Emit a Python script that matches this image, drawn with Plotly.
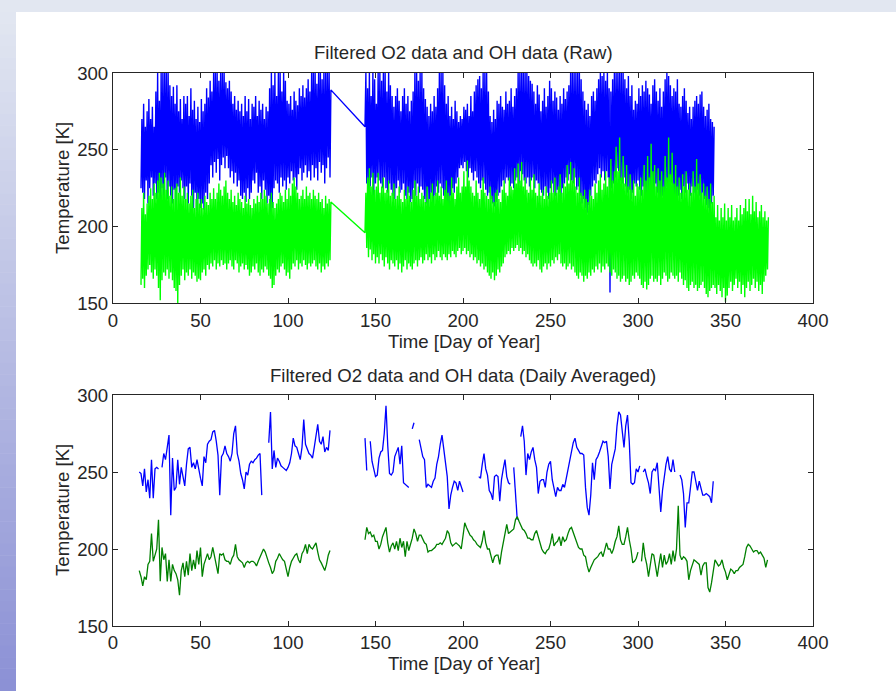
import plotly.graph_objects as go

# ---------------- DATA ----------------
# Raw data (upper panel): per-day lower / upper values of the noisy band
O2_RAW_START_1 = 16
o2_raw_hi_1 = [270, 280, 265, 275, 283, 270, 278, 265, 288, 300,
               282, 300, 300, 300, 300, 300, 292, 285, 291, 280,
               292, 275, 283, 270, 285, 280, 285, 272, 290, 276,
               282, 270, 278, 268, 283, 275, 280, 290, 284, 295,
               288, 300, 300, 300, 295, 300, 300, 300, 294, 290,
               295, 288, 280, 285, 276, 282, 275, 280, 272, 285,
               275, 283, 270, 280, 278, 285, 272, 282, 276, 280,
               270, 278, 275, 290, 300, 292, 300, 285, 300, 300,
               288, 300, 295, 282, 280, 285, 276, 288, 282, 279,
               290, 285, 292, 284, 290, 296, 288, 300, 300, 300,
               293, 300, 300, 296, 300, 300, 300, 300, 289]
o2_raw_lo_1 = [225, 222, 218, 230, 215, 225, 232, 220, 228, 218,
               222, 215, 225, 220, 232, 218, 226, 220, 215, 224,
               212, 226, 222, 230, 225, 218, 226, 215, 228, 220,
               212, 222, 210, 218, 212, 215, 211, 222, 218, 228,
               240, 232, 242, 235, 244, 230, 240, 245, 238, 246,
               238, 232, 236, 228, 235, 226, 230, 220, 218, 222,
               216, 225, 218, 222, 230, 228, 235, 222, 226, 218,
               230, 224, 215, 220, 205, 212, 225, 230, 228, 222,
               232, 226, 230, 224, 232, 228, 236, 230, 232, 224,
               234, 238, 230, 235, 240, 232, 236, 230, 240, 232,
               238, 230, 242, 235, 240, 228, 238, 245, 232]
O2_RAW_START_2 = 144
o2_raw_hi_2 = [300, 290, 300, 285, 300, 296, 280, 300, 300, 295,
               300, 300, 288, 300, 292, 285, 278, 285, 290, 282,
               275, 285, 290, 280, 285, 275, 282, 288, 300, 300,
               295, 300, 300, 290, 283, 278, 272, 280, 275, 285,
               278, 290, 300, 300, 300, 292, 280, 285, 272, 278,
               270, 282, 275, 268, 272, 270, 278, 276, 280, 272,
               285, 275, 288, 292, 296, 298, 290, 300, 300, 300,
               288, 272, 268, 276, 270, 282, 280, 285, 278, 276,
               288, 280, 282, 290, 278, 285, 290, 300, 300, 300,
               300, 300, 300, 298, 295, 293, 288, 280, 292, 286,
               275, 282, 290, 278, 285, 295, 290, 282, 288, 284,
               276, 285, 280, 290, 283, 288, 292, 300, 300, 300,
               300, 300, 300, 296, 288, 282, 276, 280, 272, 285,
               288, 282, 290, 296, 300, 298, 300, 295, 300, 290,
               288, 296, 300, 300, 300, 300, 300, 300, 296, 290,
               298, 285, 292, 276, 282, 280, 290, 285, 292, 288,
               295, 290, 286, 280, 292, 296, 288, 282, 290, 278,
               288, 296, 300, 298, 292, 285, 290, 288, 296, 280,
               278, 285, 290, 282, 274, 278, 270, 278, 282, 285,
               280, 286, 288, 278, 272, 276, 280, 270, 268, 265]
o2_raw_lo_2 = [265, 228, 222, 226, 232, 220, 228, 232, 230, 228,
               225, 232, 225, 222, 228, 224, 220, 218, 225, 230,
               222, 224, 228, 220, 218, 222, 216, 218, 225, 220,
               228, 222, 226, 224, 218, 215, 213, 218, 222, 215,
               220, 226, 222, 228, 225, 220, 218, 215, 212, 220,
               225, 222, 228, 232, 238, 240, 238, 242, 236, 232,
               238, 235, 230, 236, 232, 228, 225, 230, 228, 224,
               220, 222, 218, 215, 213, 216, 220, 222, 226, 230,
               228, 232, 230, 226, 228, 225, 230, 232, 228, 236,
               234, 230, 228, 232, 226, 230, 232, 225, 230, 228,
               224, 222, 220, 226, 222, 218, 225, 228, 222, 220,
               224, 222, 218, 225, 228, 232, 230, 234, 230, 228,
               232, 224, 226, 220, 215, 218, 212, 209, 214, 220,
               226, 230, 228, 234, 238, 232, 236, 230, 236, 232,
               157, 225, 228, 232, 238, 236, 230, 228, 232, 226,
               222, 224, 218, 222, 228, 226, 230, 224, 220, 226,
               218, 215, 220, 226, 222, 224, 228, 222, 218, 215,
               220, 222, 226, 224, 220, 228, 222, 218, 215, 220,
               224, 218, 226, 222, 228, 224, 220, 226, 222, 218,
               224, 220, 215, 222, 218, 214, 212, 209, 215, 220]

OH_RAW_START_1 = 16
oh_raw_hi_1 = [212, 222, 208, 215, 220, 225, 218, 228, 222, 230,
               235, 232, 228, 235, 224, 230, 220, 226, 218, 225,
               228, 222, 232, 220, 226, 218, 222, 215, 220, 224,
               212, 218, 222, 215, 218, 212, 220, 216, 214, 222,
               218, 225, 218, 222, 228, 224, 220, 226, 230, 222,
               218, 224, 216, 220, 214, 222, 218, 216, 212, 220,
               215, 218, 214, 212, 218, 215, 220, 216, 222, 218,
               224, 220, 215, 218, 222, 216, 212, 215, 218, 222,
               220, 216, 224, 218, 225, 220, 228, 232, 226, 222,
               218, 220, 224, 218, 226, 220, 222, 218, 224, 220,
               218, 222, 216, 218, 212, 220, 215, 218, 216]
oh_raw_lo_1 = [162, 166, 160, 168, 172, 175, 170, 166, 172, 168,
               160, 152, 165, 170, 168, 172, 166, 170, 165, 160,
               158, 150, 162, 168, 172, 165, 170, 168, 172, 166,
               170, 168, 164, 166, 165, 170, 172, 168, 175, 172,
               176, 174, 178, 172, 176, 174, 178, 175, 176, 172,
               176, 178, 174, 172, 178, 176, 170, 174, 176, 172,
               175, 172, 168, 170, 174, 172, 176, 170, 168, 172,
               170, 174, 172, 168, 166, 160, 162, 168, 172, 170,
               174, 176, 172, 168, 170, 166, 172, 176, 174, 178,
               172, 176, 174, 178, 175, 172, 176, 174, 176, 178,
               174, 172, 176, 170, 174, 172, 176, 174, 178]
OH_RAW_START_2 = 144
oh_raw_hi_2 = [222, 232, 238, 226, 235, 224, 226, 235, 222, 226,
               232, 222, 224, 230, 220, 222, 228, 218, 220, 226,
               218, 216, 224, 218, 226, 220, 216, 224, 230, 220,
               226, 218, 222, 220, 216, 226, 218, 222, 228, 220,
               222, 230, 220, 226, 218, 224, 230, 222, 220, 232,
               222, 218, 226, 232, 222, 226, 236, 226, 243, 230,
               226, 222, 220, 230, 222, 218, 224, 232, 222, 220,
               218, 226, 220, 216, 222, 224, 218, 216, 224, 230,
               222, 220, 232, 226, 224, 238, 228, 241, 230, 242,
               226, 232, 224, 222, 232, 224, 234, 222, 220, 228,
               220, 224, 218, 226, 220, 222, 230, 222, 232, 222,
               226, 234, 222, 228, 226, 240, 228, 242, 230, 238,
               226, 222, 232, 222, 220, 224, 218, 216, 224, 220,
               218, 228, 222, 230, 234, 224, 228, 236, 226, 232,
               244, 230, 236, 252, 236, 258, 232, 246, 228, 240,
               226, 234, 224, 230, 220, 228, 226, 232, 224, 240,
               230, 246, 232, 254, 236, 240, 226, 238, 230, 236,
               226, 246, 232, 258, 234, 248, 228, 240, 226, 232,
               222, 234, 226, 236, 224, 228, 222, 236, 226, 244,
               228, 234, 222, 228, 220, 226, 218, 228, 216, 220,
               206, 214, 204, 212, 206, 215, 204, 212, 206, 214,
               204, 206, 212, 204, 214, 208, 212, 218, 210, 218,
               208, 220, 210, 216, 206, 210, 214, 206, 210, 204,
               206]
oh_raw_lo_2 = [196, 186, 180, 185, 178, 182, 176, 180, 176, 182,
               178, 174, 180, 176, 172, 178, 176, 174, 178, 172,
               176, 170, 174, 178, 172, 176, 174, 172, 176, 178,
               174, 178, 180, 176, 178, 182, 178, 180, 176, 182,
               178, 180, 184, 180, 178, 182, 180, 178, 182, 180,
               184, 182, 180, 184, 186, 182, 184, 186, 182, 184,
               180, 182, 178, 180, 176, 178, 174, 176, 172, 174,
               170, 168, 166, 170, 165, 168, 172, 170, 174, 176,
               180, 182, 184, 182, 186, 184, 186, 188, 184, 186,
               182, 184, 180, 182, 178, 176, 174, 176, 174, 178,
               172, 170, 174, 176, 172, 176, 174, 178, 176, 180,
               178, 182, 176, 174, 176, 172, 174, 176, 172, 174,
               170, 168, 166, 170, 168, 164, 168, 166, 170, 168,
               172, 170, 174, 172, 176, 170, 174, 172, 176, 174,
               170, 168, 172, 170, 166, 168, 164, 166, 168, 164,
               166, 162, 164, 168, 166, 170, 168, 166, 162, 160,
               164, 159, 162, 166, 168, 164, 166, 164, 168, 162,
               166, 170, 168, 164, 166, 170, 168, 166, 168, 164,
               170, 166, 162, 165, 160, 158, 162, 164, 160, 162,
               158, 160, 162, 164, 160, 156, 154, 158, 160, 162,
               160, 156, 162, 158, 154, 160, 151, 155, 160, 164,
               158, 162, 166, 160, 164, 156, 162, 154, 160, 164,
               158, 162, 166, 160, 164, 158, 162, 156, 164, 168,
               172]

# Daily averaged data (lower panel); None = no data that day
O2_DAILY_START = 15
o2_daily = [250, 249, 241, 252, 237, 245, 233, 258, 233, 252,
            253, 252, None, 253, 262, 258, 265, 274, 222, 259,
            238, 240, 258, 242, 253, 246, 241, 255, 265, 266,
            253, 256, 252, 258, 251, 246, 241, 260, 256, 268,
            270, 271, 276, 277, 270, 261, 235, 260, 262, 267,
            262, 260, 257, 262, 275, 280, 262, 257, 249, 245,
            239, 250, 248, 255, 257, 256, 258, 259, 261, 262,
            235, None, None, None, 269, 289, 252, 264, 253, 259,
            257, 254, 253, 252, 251, 253, 256, 262, 272, 267,
            266, 262, 258, 266, 284, 268, 265, 262, 261, 259,
            266, 274, 281, 270, 268, 273, 263, 266, 264, 277,
            None, None, None, None, None, None, None, None, None, None,
            None, None, None, None, None, None, None, None, None,
            272, 251, None, 270, 257, 252, 247, 248, 259, 263,
            264, 275, 293, 267, 249, 248, 250, 260, 263, 266,
            255, 267, 243, 242, 241, 240, None, 278, 282, None,
            None, 271, 265, 260, 258, 240, 242, 241, 240, 244,
            246, 255, 260, 268, 274, 265, 257, 247, 226, 235,
            240, 244, 243, 238, 244, 241, 237, None, None, None,
            None, None, None, None, None, 247, 246, 255, 262, 252,
            248, 238, 236, 232, 247, 248, 247, 231, 245, 252,
            258, 247, 243, 242, None, 253, 237, 219, None, 273,
            280, 270, 248, 262, 258, 263, 266, 258, 253, 236,
            244, 245, 245, 240, 250, 255, 257, 245, 238, 234,
            240, 238, 238, 242, 240, 246, 251, 258, 264, 269,
            272, 266, 264, 262, 262, 261, 240, 227, 222, 235,
            256, 245, 258, 260, 263, 267, 270, 269, 270, 260,
            239, 255, 260, 265, 280, 289, 287, 275, 266, 280,
            287, 270, 243, 242, 243, 252, 250, 254, None, 250,
            252, 247, 243, 236, 250, 252, 251, 256, 240, 224,
            238, 247, 255, 260, 252, 250, 258, 250, None, None,
            248, 245, 236, 214, 230, 230, 240, 250, 250, 244,
            238, 244, 240, 235, 235, 236, 235, 234, 230, 244]
OH_DAILY_START = 15
oh_daily = [186, 182, 176, 182, 180, 190, 192, 210, 192, 197,
            200, 219, 179, 201, 193, 197, 179, 193, 179, 190,
            186, 184, 180, 170, 186, 191, 182, 192, 183, 197,
            186, 193, 187, 199, 190, 201, 182, 190, 193, 197,
            193, 195, 201, 196, 191, 184, 197, 196, 197, 193,
            192, 192, 190, 194, 196, 203, 195, 193, 192, 191,
            188, 191, 192, 191, 192, 192, 191, 189, 192, 195,
            197, 200, 198, 194, 191, 188, 184, 186, 192, 194,
            197, 195, 193, 192, 187, 182, 188, 192, 194, 196,
            197, 193, 191, 197, 199, 203, 197, 203, 201, 200,
            202, 204, 198, 193, 191, 188, 186, 190, 196, 199,
            None, None, None, None, None, None, None, None, None, None,
            None, None, None, None, None, None, None, None, None,
            206, 214, 210, 211, 208, 209, 205, 205, 200, 203,
            208, 211, 214, 204, 198, 202, 204, 200, 205, 199,
            207, 201, 205, 195, 205, 199, 203, 207, 213, 210,
            205, 209, 209, 206, 204, 203, 198, 199, 199, 200,
            201, 203, 203, 204, 203, 205, 207, 212, 210, 204,
            202, 203, 204, 203, 202, 200, 210, 217, 214, 211,
            209, 208, 206, 205, 203, 202, 201, 205, 212, 204,
            200, 200, 196, 191, 195, 196, 196, 190, 198, 205,
            210, 216, 210, 211, 212, 213, 219, 221, 218, 215,
            213, 212, 210, 207, 207, 206, 206, 210, 212, 208,
            204, 200, 198, 197, 199, 200, 204, 210, 202, 204,
            205, 208, 202, 208, 205, 206, 210, 213, 214, 211,
            207, 204, 201, 200, 200, 196, 195, 189, 185, 188,
            191, 193, 194, 195, 197, 198, 195, 199, 204, 200,
            200, 197, 200, 205, 208, 215, 206, 203, 203, 208,
            214, 206, 200, 191, 192, 194, 198, None, 192, 204,
            195, 190, 182, 190, 197, 196, 190, 182, 190, 197,
            188, 196, 190, 192, 197, 190, 199, 192, 200, 228,
            196, 193, 195, 194, 192, 180, 186, 190, 193, 192,
            191, 190, 183, 189, 191, 191, 175, 172, 178, 187,
            193, 191, 189, 190, 193, 188, 185, 180, 184, 187,
            186, 184, 186, 186, 188, 189, 190, 195, 201, 203,
            202, 200, 198, 199, 199, 197, 198, 196, 194, 188,
            193]

TITLE_RAW = "Filtered O2 data and OH data (Raw)"
TITLE_DAILY = "Filtered O2 data and OH data (Daily Averaged)"
X_LABEL = "Time [Day of Year]"
Y_LABEL = "Temperature [K]"
X_TICKS = [0, 50, 100, 150, 200, 250, 300, 350, 400]
Y_TICKS = [150, 200, 250, 300]


# ---------------- helpers ----------------
def band(start, lo, hi):
    """Two samples per day: the low and the high reading of that day."""
    xs, ys = [], []
    for i, (a, b) in enumerate(zip(lo, hi)):
        d = start + i
        xs += [d, d + 0.5]
        ys += [a, b]
    return xs, ys


def days(start, vals):
    return [start + i for i in range(len(vals))]


o2x1, o2y1 = band(O2_RAW_START_1, o2_raw_lo_1, o2_raw_hi_1)
o2x2, o2y2 = band(O2_RAW_START_2, o2_raw_lo_2, o2_raw_hi_2)
ohx1, ohy1 = band(OH_RAW_START_1, oh_raw_lo_1, oh_raw_hi_1)
ohx2, ohy2 = band(OH_RAW_START_2, oh_raw_lo_2, oh_raw_hi_2)

fig = go.Figure()
fig.add_trace(go.Scatter(x=o2x1 + o2x2, y=o2y1 + o2y2, mode="lines",
                         line=dict(color="#0000ff", width=1.4),
                         xaxis="x", yaxis="y", name="O2 raw"))
fig.add_trace(go.Scatter(x=ohx1 + ohx2, y=ohy1 + ohy2, mode="lines",
                         line=dict(color="#00ff00", width=1.4),
                         xaxis="x", yaxis="y", name="OH raw"))
fig.add_trace(go.Scatter(x=days(O2_DAILY_START, o2_daily), y=o2_daily, mode="lines",
                         line=dict(color="#0000ff", width=1.3),
                         xaxis="x2", yaxis="y2", name="O2 daily"))
fig.add_trace(go.Scatter(x=days(OH_DAILY_START, oh_daily), y=oh_daily, mode="lines",
                         line=dict(color="#008000", width=1.3),
                         xaxis="x2", yaxis="y2", name="OH daily"))

W, H = 896, 691
L, R, T, B = 113, 83, 73, 65
PW, PH = W - L - R, H - T - B
FS = 18.6


def px(x):
    return (x - L) / PW


def py(y):
    return (H - B - y) / PH


axis_common = dict(showline=True, linecolor="#262626", linewidth=1.2, mirror="ticks",
                   ticks="inside", ticklen=5, tickwidth=1, tickcolor="#262626",
                   showgrid=False, zeroline=False,
                   tickfont=dict(size=FS, color="#262626"))

fig.update_layout(
    width=W, height=H,
    margin=dict(l=L, r=R, t=T, b=B),
    paper_bgcolor="white", plot_bgcolor="white",
    showlegend=False,
    font=dict(family="Liberation Sans, Arial, sans-serif", size=FS, color="#262626"),
    xaxis=dict(domain=[0, 1], range=[0, 400], tickvals=X_TICKS, anchor="y", **axis_common),
    yaxis=dict(domain=[py(303.3), 1], range=[150, 300], tickvals=Y_TICKS, anchor="x", **axis_common),
    xaxis2=dict(domain=[0, 1], range=[0, 400], tickvals=X_TICKS, anchor="y2", **axis_common),
    yaxis2=dict(domain=[0, py(395)], range=[150, 300], tickvals=Y_TICKS, anchor="x2", **axis_common),
)

ann = []
def label(text, x, y, angle=0):
    ann.append(dict(text=text, x=px(x), y=py(y), xref="paper", yref="paper",
                    showarrow=False, xanchor="center", yanchor="middle",
                    textangle=angle, font=dict(size=FS, color="#262626")))

label(TITLE_RAW, 463, 52)
label(TITLE_DAILY, 463, 375)
label(X_LABEL, 464, 341)
label(X_LABEL, 464, 663)
label(Y_LABEL, 62, 188, -90)
label(Y_LABEL, 62, 510, -90)
fig.update_layout(annotations=ann)

# page background: light top strip and a left strip shading to blue-violet
shapes = [dict(type="rect", xref="paper", yref="paper", x0=px(0), x1=px(W),
               y0=py(12), y1=py(0), fillcolor="#e2e7f1", line=dict(width=0), layer="below")]
top_c, bot_c = (226, 231, 241), (139, 144, 213)
N = 60
for i in range(N):
    y0 = 12 + (H - 12) * i / N
    y1 = 12 + (H - 12) * (i + 1) / N
    f = (i + 0.5) / N
    c = tuple(int(round(top_c[k] + (bot_c[k] - top_c[k]) * f)) for k in range(3))
    shapes.append(dict(type="rect", xref="paper", yref="paper", x0=px(0), x1=px(16),
                       y0=py(y1 + 0.5), y1=py(y0), fillcolor="rgb(%d,%d,%d)" % c,
                       line=dict(width=0), layer="below"))
fig.update_layout(shapes=shapes)

fig.write_html("out.html",
               config={"displayModeBar": False},
               post_script="document.body.style.margin='0';document.body.style.padding='0';")
